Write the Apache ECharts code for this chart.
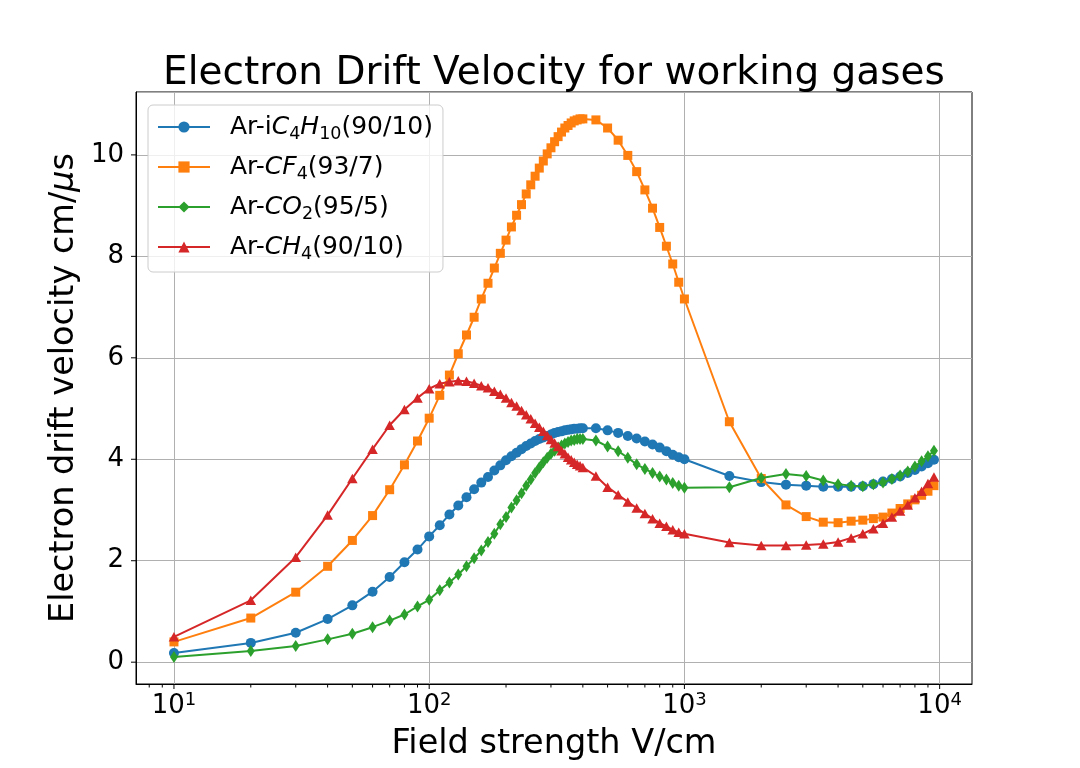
<!DOCTYPE html>
<html><head><meta charset="utf-8">
<script src="https://cdn.jsdelivr.net/npm/echarts@6/dist/echarts.min.js"></script>
<style>html,body{margin:0;padding:0;background:#fff}#chart{width:1080px;height:768px}</style>
</head><body><div id="chart"></div>
<script>
const fieldStrength = [10,20,30,40,50,60,70,80,90,100,
  110,120,130,140,150,160,170,180,190,200,
  210,220,230,240,250,260,270,280,290,300,
  310,320,330,340,350,360,370,380,390,400,
  450,500,550,600,650,700,750,800,850,900,950,1000,
  1500,2000,2500,3000,3500,4000,4500,5000,5500,6000,6500,7000,7500,8000,8500,9000,9500];

const ic4h10 = [0.18,0.38,0.58,0.85,1.12,1.39,1.68,1.97,2.22,2.48,
  2.70,2.91,3.09,3.25,3.41,3.54,3.65,3.78,3.88,3.98,
  4.06,4.13,4.20,4.26,4.31,4.36,4.40,4.43,4.46,4.49,
  4.52,4.54,4.55,4.57,4.58,4.59,4.60,4.60,4.61,4.61,
  4.61,4.57,4.52,4.46,4.41,4.35,4.29,4.23,4.16,4.09,4.04,4.00,
  3.67,3.55,3.50,3.48,3.46,3.46,3.46,3.47,3.51,3.56,3.61,3.66,3.73,3.79,3.86,3.92,3.99];

const cf4 = [0.40,0.87,1.38,1.89,2.40,2.89,3.40,3.89,4.36,4.81,
  5.26,5.66,6.08,6.45,6.80,7.16,7.47,7.77,8.06,8.32,
  8.58,8.81,9.02,9.23,9.41,9.58,9.74,9.88,10.02,10.14,
  10.26,10.36,10.45,10.53,10.58,10.63,10.67,10.69,10.71,10.71,
  10.69,10.53,10.29,9.99,9.67,9.31,8.95,8.57,8.20,7.85,7.49,7.16,
  4.74,3.62,3.10,2.87,2.76,2.75,2.78,2.80,2.83,2.86,2.94,3.03,3.12,3.20,3.29,3.37,3.48];

const co2 = [0.10,0.22,0.32,0.45,0.56,0.69,0.82,0.94,1.10,1.23,
  1.42,1.57,1.73,1.89,2.05,2.20,2.37,2.53,2.72,2.86,
  3.05,3.19,3.33,3.48,3.60,3.73,3.84,3.94,4.03,4.11,
  4.17,4.23,4.27,4.31,4.34,4.37,4.38,4.40,4.40,4.40,
  4.37,4.25,4.16,4.03,3.90,3.81,3.73,3.66,3.60,3.53,3.48,3.44,
  3.45,3.63,3.71,3.67,3.58,3.51,3.48,3.47,3.51,3.54,3.61,3.68,3.76,3.86,3.96,4.06,4.17];

const ch4 = [0.50,1.22,2.07,2.90,3.62,4.20,4.67,4.98,5.21,5.39,
  5.49,5.53,5.55,5.54,5.50,5.45,5.41,5.34,5.28,5.21,
  5.12,5.05,4.96,4.88,4.80,4.71,4.63,4.55,4.47,4.39,
  4.32,4.25,4.17,4.11,4.04,3.99,3.94,3.90,3.87,3.84,
  3.67,3.45,3.30,3.16,3.04,2.93,2.83,2.74,2.68,2.61,2.56,2.53,
  2.36,2.30,2.30,2.31,2.33,2.37,2.45,2.53,2.63,2.74,2.86,2.98,3.10,3.24,3.37,3.52,3.65];

const seriesNames = ['Ar-iC4H10(90/10)', 'Ar-CF4(93/7)', 'Ar-CO2(95/5)', 'Ar-CH4(90/10)'];
const legendLabels = [
  '{n0|Ar-i}{it|C}{sub|4}{it|H}{sub|10}{n|(90/10)}',
  '{n0|Ar-}{it|CF}{sub|4}{n|(93/7)}',
  '{n0|Ar-}{it|CO}{sub|2}{n|(95/5)}',
  '{n0|Ar-}{it|CH}{sub|4}{n|(90/10)}'
];
const titleText = 'Electron Drift Velocity for working gases';
const xAxisTitle = 'Field strength V/cm';
const yAxisTitle = 'Electron drift velocity cm/{it|μ}s';
const xMajorTicks = [10, 100, 1000, 10000];
const xMinorTicks = [8,9,20,30,40,50,60,70,80,90,200,300,400,500,600,700,800,900,2000,3000,4000,5000,6000,7000,8000,9000];
const yTicks = [0, 2, 4, 6, 8, 10];

const X_MIN = 7.1, X_MAX = 13390, Y_MIN = -0.43, Y_MAX = 11.24;
const F = 'DejaVu Sans';
const colors = ['#1f77b4', '#ff7f0e', '#2ca02c', '#d62728'];
const symbols = ['circle', 'rect', 'diamond', 'triangle'];
const symbolSizes = [10, 9, [8, 12], [10.5, 9.5]];
const values = [ic4h10, cf4, co2, ch4];

const chart = echarts.init(document.getElementById('chart'), null, {renderer: 'canvas'});

const lineSeries = seriesNames.map((name, i) => ({
  type: 'line', name: name,
  data: fieldStrength.map((x, j) => [x, values[i][j]]),
  symbol: symbols[i], symbolSize: symbolSizes[i], showAllSymbol: true,
  lineStyle: {color: colors[i], width: 2},
  itemStyle: {color: colors[i], borderWidth: 0},
  emphasis: {disabled: true}, silent: true, z: 3 + i
}));

function tickSeries(vals, len, yVal, dx, dy) {
  return {
    type: 'custom', silent: true, z: 10, clip: false,
    data: vals.map(v => dx ? [X_MIN, v] : [v, yVal]),
    encode: {x: 0, y: 1},
    renderItem: function (params, api) {
      const p = api.coord([api.value(0), api.value(1)]);
      return {type: 'line', shape: {x1: p[0], y1: p[1], x2: p[0] + dx * len, y2: p[1] + dy * len},
        style: {stroke: '#000', lineWidth: 1}};
    }
  };
}

const option = {
  animation: false,
  backgroundColor: '#fff',
  title: {
    text: titleText, left: 554, top: 54, padding: 0,
    textAlign: 'center', textVerticalAlign: 'top',
    textStyle: {fontFamily: F, fontSize: 39, fontWeight: 'normal', color: '#000'}
  },
  grid: {left: 136, right: 108, top: 92, bottom: 84, containLabel: false, outerBoundsMode: 'none',
    show: true, borderColor: '#000', borderWidth: 1, backgroundColor: 'transparent'},
  legend: {
    data: seriesNames, orient: 'vertical', left: 148, top: 105,
    padding: [6, 10, 9, 9], itemGap: 8, itemWidth: 52, itemHeight: 14,
    backgroundColor: 'rgba(255,255,255,0.8)', borderColor: '#cccccc', borderWidth: 1, borderRadius: 5,
    selectedMode: false,
    formatter: function (name) { return legendLabels[seriesNames.indexOf(name)]; },
    textStyle: {
      fontFamily: F, fontSize: 25, color: '#000', lineHeight: 30,
      rich: {
        n0: {fontFamily: F, fontSize: 25, color: '#000', lineHeight: 30, padding: [0, 0, 0, 15]},
        n: {fontFamily: F, fontSize: 25, color: '#000', lineHeight: 30},
        it: {fontFamily: F, fontSize: 25, color: '#000', lineHeight: 30, fontStyle: 'italic'},
        sub: {fontFamily: F, fontSize: 17.5, color: '#000', lineHeight: 30, padding: [14, 0, 0, 0]}
      }
    }
  },
  xAxis: {
    type: 'log', logBase: 10, min: X_MIN, max: X_MAX,
    name: xAxisTitle, nameLocation: 'middle', nameGap: 43, nameMoveOverlap: false,
    nameTextStyle: {fontFamily: F, fontSize: 33.5, color: '#000'},
    axisLine: {show: true, onZero: false, lineStyle: {color: '#000', width: 1}},
    axisTick: {show: false},
    axisLabel: {
      show: true, margin: 7, showMinLabel: false, showMaxLabel: false, color: '#000',
      formatter: function (v) {
        const e = Math.round(Math.log10(v));
        if (xMajorTicks.indexOf(Math.round(v)) < 0) return '';
        return '{b|10}{s|' + e + '}';
      },
      rich: {
        b: {fontFamily: F, fontSize: 26, color: '#000', lineHeight: 30},
        s: {fontFamily: F, fontSize: 18, color: '#000', lineHeight: 30, padding: [0, 0, 12, 0]}
      }
    },
    splitLine: {show: true, showMinLine: false, showMaxLine: false, lineStyle: {color: '#b0b0b0', width: 1}},
    minorTick: {show: false}, minorSplitLine: {show: false}
  },
  yAxis: {
    type: 'value', min: Y_MIN, max: Y_MAX, splitNumber: 6,
    name: yAxisTitle, nameLocation: 'middle', nameGap: 55, nameMoveOverlap: false,
    nameTextStyle: {fontFamily: F, fontSize: 33.5, color: '#000',
      rich: {it: {fontFamily: F, fontSize: 33.5, color: '#000', fontStyle: 'italic'}}},
    axisLine: {show: true, onZero: false, lineStyle: {color: '#000', width: 1}},
    axisTick: {show: false},
    axisLabel: {show: true, margin: 12, customValues: yTicks,
      fontFamily: F, fontSize: 26, color: '#000'},
    splitLine: {show: true, lineStyle: {color: '#b0b0b0', width: 1}}
  },
  series: lineSeries.concat([
    tickSeries(xMajorTicks, 5, Y_MIN, 0, 1),
    tickSeries(xMinorTicks, 3.5, Y_MIN, 0, 1),
    tickSeries(yTicks, 5, null, -1, 0)
  ])
};
chart.setOption(option);
</script></body></html>
